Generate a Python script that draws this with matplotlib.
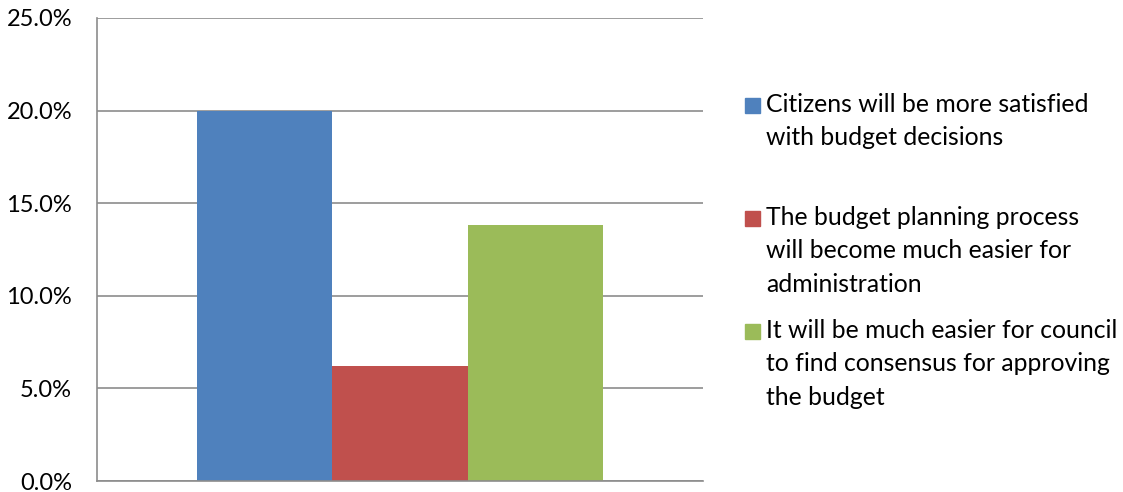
import matplotlib
matplotlib.use("Agg")
import matplotlib.pyplot as plt
from matplotlib.patches import Rectangle
from matplotlib.ticker import FuncFormatter

# data
series_labels = [
    "Citizens will be more satisfied\nwith budget decisions",
    "The budget planning process\nwill become much easier for\nadministration",
    "It will be much easier for council\nto find consensus for approving\nthe budget",
]
series_values = [20.0, 6.2, 13.8]
series_colors = ["#4F81BD", "#C0504D", "#9BBB59"]
y_ticks = [0, 5, 10, 15, 20, 25]

plt.rcParams["font.family"] = ["Lato", "DejaVu Sans"]

fig = plt.figure(figsize=(11.23, 4.92), dpi=100)
ax = fig.add_axes([97 / 1123, 1 - 481 / 492, 606 / 1123, 463 / 492])

width = 0.2228
offsets = [-width, 0, width]
for off, val, col in zip(offsets, series_values, series_colors):
    ax.bar(off, val, width=width, color=col, linewidth=0, zorder=2)

ax.set_xlim(-0.5, 0.5)
ax.set_ylim(0, 25)
ax.set_yticks(y_ticks)
ax.yaxis.set_major_formatter(FuncFormatter(lambda v, p: f"{v:.1f}%"))
ax.set_xticks([])
ax.grid(axis="y", color="#8C8C8C", linewidth=1.2, zorder=0)
for s in ["top", "right"]:
    ax.spines[s].set_visible(False)
ax.spines["left"].set_color("#8C8C8C")
ax.spines["left"].set_linewidth(1.2)
ax.spines["bottom"].set_color("#8C8C8C")
ax.spines["bottom"].set_linewidth(1.2)
ax.tick_params(axis="y", length=0, pad=18, labelsize=17)

# legend drawn by hand so the square lines up with the first text line
tops = [93, 206, 319]
for top, lab, col in zip(tops, series_labels, series_colors):
    fig.patches.append(Rectangle((745 / 1123, 1 - (top + 20) / 492), 15 / 1123, 15 / 492,
                                 transform=fig.transFigure, color=col))
    fig.text(766 / 1123, 1 - top / 492, lab, ha="left", va="top",
             fontsize=17.8, linespacing=1.55)

fig.savefig("out.png", dpi=100)
